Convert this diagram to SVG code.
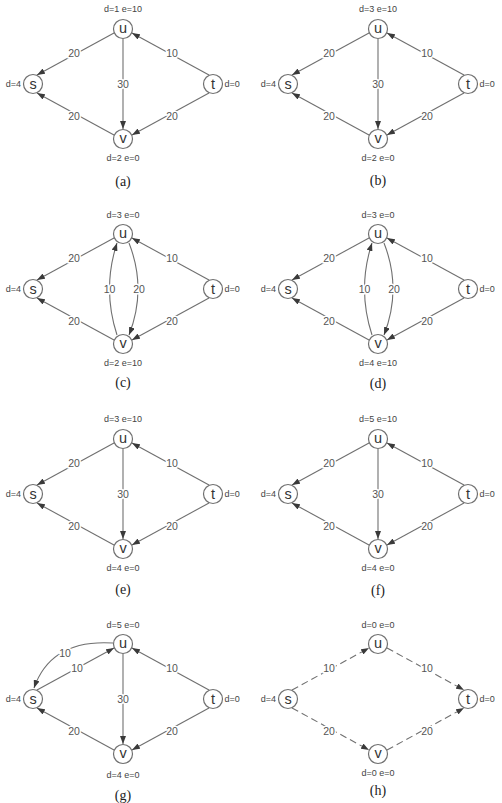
<svg xmlns="http://www.w3.org/2000/svg" width="502" height="803" viewBox="0 0 502 803">
<style>
.e{fill:none;stroke:#707070;stroke-width:1.1;marker-end:url(#ah)}
.dash{stroke-dasharray:7,4}
.n{fill:#fff;stroke:#707070;stroke-width:1.2}
.nl{font-family:"Liberation Sans",Arial,sans-serif;font-size:14.5px;fill:#333;text-anchor:middle}
.el{font-family:"Liberation Sans",Arial,sans-serif;font-size:10.5px;fill:#555;text-anchor:middle;stroke:#fff;stroke-width:3;paint-order:stroke}
.dl{font-family:"Liberation Sans",Arial,sans-serif;font-size:9px;fill:#444;text-anchor:middle}
.dle{font-family:"Liberation Sans",Arial,sans-serif;font-size:9px;fill:#444;text-anchor:end}
.dls{font-family:"Liberation Sans",Arial,sans-serif;font-size:9px;fill:#444;text-anchor:start}
.cap{font-family:"Liberation Serif","Times New Roman",serif;font-size:14px;fill:#222;text-anchor:middle}
</style>
<defs>
<marker id="ah" viewBox="0 0 8 6" refX="8" refY="3" markerWidth="8" markerHeight="6" markerUnits="userSpaceOnUse" orient="auto"><path d="M0,0 L8,3 L0,6 z" fill="#3a3a3a"/></marker>
</defs>

<!-- (a) -->
<g id="panel-a" transform="translate(123,84)">
<g id="a-connectors">
<path class="e" d="M-9,-51 L-86,-9"/>
<path class="e" d="M86,-9 L9,-51"/>
<path class="e" d="M0,-45.5 L0,45"/>
<path class="e" d="M-9,51 L-86,9"/>
<path class="e" d="M86,9 L9,51"/>
<text class="el" x="-49" y="-27.5">20</text>
<text class="el" x="49" y="-27.5">10</text>
<text class="el" x="0" y="3.8">30</text>
<text class="el" x="-49" y="35.5">20</text>
<text class="el" x="49" y="35.5">20</text>
</g>
<g id="a-u"><circle class="n" cx="0" cy="-55" r="9.5"/><text class="nl" x="0" y="-51">u</text><text class="dl" x="0" y="-72">d=1 e=10</text></g>
<g id="a-s"><circle class="n" cx="-90" cy="0" r="9.5"/><text class="nl" x="-90" y="4.5">s</text><text class="dle" x="-102" y="3.2">d=4</text></g>
<g id="a-t"><circle class="n" cx="90" cy="0" r="9.5"/><text class="nl" x="90" y="5">t</text><text class="dls" x="101.5" y="3.2">d=0</text></g>
<g id="a-v"><circle class="n" cx="0" cy="55" r="9.5"/><text class="nl" x="0" y="59">v</text><text class="dl" x="0" y="76.5">d=2 e=0</text></g>
<text class="cap" x="0" y="102">(a)</text>
</g>

<!-- (b) -->
<g id="panel-b" transform="translate(378,84)">
<g id="b-connectors">
<path class="e" d="M-9,-51 L-86,-9"/>
<path class="e" d="M86,-9 L9,-51"/>
<path class="e" d="M0,-45.5 L0,45"/>
<path class="e" d="M-9,51 L-86,9"/>
<path class="e" d="M86,9 L9,51"/>
<text class="el" x="-49" y="-27.5">20</text>
<text class="el" x="49" y="-27.5">10</text>
<text class="el" x="0" y="3.8">30</text>
<text class="el" x="-49" y="35.5">20</text>
<text class="el" x="49" y="35.5">20</text>
</g>
<g id="b-u"><circle class="n" cx="0" cy="-55" r="9.5"/><text class="nl" x="0" y="-51">u</text><text class="dl" x="0" y="-72">d=3 e=10</text></g>
<g id="b-s"><circle class="n" cx="-90" cy="0" r="9.5"/><text class="nl" x="-90" y="4.5">s</text><text class="dle" x="-102" y="3.2">d=4</text></g>
<g id="b-t"><circle class="n" cx="90" cy="0" r="9.5"/><text class="nl" x="90" y="5">t</text><text class="dls" x="101.5" y="3.2">d=0</text></g>
<g id="b-v"><circle class="n" cx="0" cy="55" r="9.5"/><text class="nl" x="0" y="59">v</text><text class="dl" x="0" y="76.5">d=2 e=0</text></g>
<text class="cap" x="0" y="101">(b)</text>
</g>

<!-- (c) -->
<g id="panel-c" transform="translate(123,289)">
<g id="c-connectors">
<path class="e" d="M-9,-51 L-86,-9"/>
<path class="e" d="M86,-9 L9,-51"/>
<path class="e" d="M-6,46 Q-21,0 -6,-46"/>
<path class="e" d="M6,-46 Q24,0 6,46"/>
<path class="e" d="M-9,51 L-86,9"/>
<path class="e" d="M86,9 L9,51"/>
<text class="el" x="-49" y="-27.5">20</text>
<text class="el" x="49" y="-27.5">10</text>
<text class="el" x="-13.5" y="3.8">10</text>
<text class="el" x="16" y="3.8">20</text>
<text class="el" x="-49" y="35.5">20</text>
<text class="el" x="49" y="35.5">20</text>
</g>
<g id="c-u"><circle class="n" cx="0" cy="-55" r="9.5"/><text class="nl" x="0" y="-51">u</text><text class="dl" x="0" y="-71">d=3 e=0</text></g>
<g id="c-s"><circle class="n" cx="-90" cy="0" r="9.5"/><text class="nl" x="-90" y="4.5">s</text><text class="dle" x="-102" y="3.2">d=4</text></g>
<g id="c-t"><circle class="n" cx="90" cy="0" r="9.5"/><text class="nl" x="90" y="5">t</text><text class="dls" x="101.5" y="3.2">d=0</text></g>
<g id="c-v"><circle class="n" cx="0" cy="55" r="9.5"/><text class="nl" x="0" y="59">v</text><text class="dl" x="0" y="77">d=2 e=10</text></g>
<text class="cap" x="0" y="98">(c)</text>
</g>

<!-- (d) -->
<g id="panel-d" transform="translate(378,289)">
<g id="d-connectors">
<path class="e" d="M-9,-51 L-86,-9"/>
<path class="e" d="M86,-9 L9,-51"/>
<path class="e" d="M-6,46 Q-21,0 -6,-46"/>
<path class="e" d="M6,-46 Q24,0 6,46"/>
<path class="e" d="M-9,51 L-86,9"/>
<path class="e" d="M86,9 L9,51"/>
<text class="el" x="-49" y="-27.5">20</text>
<text class="el" x="49" y="-27.5">10</text>
<text class="el" x="-13.5" y="3.8">10</text>
<text class="el" x="16" y="3.8">20</text>
<text class="el" x="-49" y="35.5">20</text>
<text class="el" x="49" y="35.5">20</text>
</g>
<g id="d-u"><circle class="n" cx="0" cy="-55" r="9.5"/><text class="nl" x="0" y="-51">u</text><text class="dl" x="0" y="-71">d=3 e=0</text></g>
<g id="d-s"><circle class="n" cx="-90" cy="0" r="9.5"/><text class="nl" x="-90" y="4.5">s</text><text class="dle" x="-102" y="3.2">d=4</text></g>
<g id="d-t"><circle class="n" cx="90" cy="0" r="9.5"/><text class="nl" x="90" y="5">t</text><text class="dls" x="101.5" y="3.2">d=0</text></g>
<g id="d-v"><circle class="n" cx="0" cy="55" r="9.5"/><text class="nl" x="0" y="59">v</text><text class="dl" x="0" y="77">d=4 e=10</text></g>
<text class="cap" x="0" y="99">(d)</text>
</g>

<!-- (e) -->
<g id="panel-e" transform="translate(123,494)">
<g id="e-connectors">
<path class="e" d="M-9,-51 L-86,-9"/>
<path class="e" d="M86,-9 L9,-51"/>
<path class="e" d="M0,-45.5 L0,45"/>
<path class="e" d="M-9,51 L-86,9"/>
<path class="e" d="M86,9 L9,51"/>
<text class="el" x="-49" y="-27.5">20</text>
<text class="el" x="49" y="-27.5">10</text>
<text class="el" x="0" y="3.8">30</text>
<text class="el" x="-49" y="35.5">20</text>
<text class="el" x="49" y="35.5">20</text>
</g>
<g id="e-u"><circle class="n" cx="0" cy="-55" r="9.5"/><text class="nl" x="0" y="-51">u</text><text class="dl" x="0" y="-72">d=3 e=10</text></g>
<g id="e-s"><circle class="n" cx="-90" cy="0" r="9.5"/><text class="nl" x="-90" y="4.5">s</text><text class="dle" x="-102" y="3.2">d=4</text></g>
<g id="e-t"><circle class="n" cx="90" cy="0" r="9.5"/><text class="nl" x="90" y="5">t</text><text class="dls" x="101.5" y="3.2">d=0</text></g>
<g id="e-v"><circle class="n" cx="0" cy="55" r="9.5"/><text class="nl" x="0" y="59">v</text><text class="dl" x="0" y="77">d=4 e=0</text></g>
<text class="cap" x="0" y="100">(e)</text>
</g>

<!-- (f) -->
<g id="panel-f" transform="translate(378,494)">
<g id="f-connectors">
<path class="e" d="M-9,-51 L-86,-9"/>
<path class="e" d="M86,-9 L9,-51"/>
<path class="e" d="M0,-45.5 L0,45"/>
<path class="e" d="M-9,51 L-86,9"/>
<path class="e" d="M86,9 L9,51"/>
<text class="el" x="-49" y="-27.5">20</text>
<text class="el" x="49" y="-27.5">10</text>
<text class="el" x="0" y="3.8">30</text>
<text class="el" x="-49" y="35.5">20</text>
<text class="el" x="49" y="35.5">20</text>
</g>
<g id="f-u"><circle class="n" cx="0" cy="-55" r="9.5"/><text class="nl" x="0" y="-51">u</text><text class="dl" x="0" y="-72">d=5 e=10</text></g>
<g id="f-s"><circle class="n" cx="-90" cy="0" r="9.5"/><text class="nl" x="-90" y="4.5">s</text><text class="dle" x="-102" y="3.2">d=4</text></g>
<g id="f-t"><circle class="n" cx="90" cy="0" r="9.5"/><text class="nl" x="90" y="5">t</text><text class="dls" x="101.5" y="3.2">d=0</text></g>
<g id="f-v"><circle class="n" cx="0" cy="55" r="9.5"/><text class="nl" x="0" y="59">v</text><text class="dl" x="0" y="77">d=4 e=0</text></g>
<text class="cap" x="0" y="101">(f)</text>
</g>

<!-- (g) -->
<g id="panel-g" transform="translate(123,699)">
<g id="g-connectors">
<path class="e" d="M-10,-56 Q-72,-60 -89,-11"/>
<path class="e" d="M-86,-9 L-9,-51"/>
<path class="e" d="M86,-9 L9,-51"/>
<path class="e" d="M0,-45.5 L0,45"/>
<path class="e" d="M-9,51 L-86,9"/>
<path class="e" d="M86,9 L9,51"/>
<text class="el" x="-58" y="-42.5">10</text>
<text class="el" x="-46" y="-27.5">10</text>
<text class="el" x="49" y="-27.5">10</text>
<text class="el" x="0" y="3.8">30</text>
<text class="el" x="-49" y="35.5">20</text>
<text class="el" x="49" y="35.5">20</text>
</g>
<g id="g-u"><circle class="n" cx="0" cy="-55" r="9.5"/><text class="nl" x="0" y="-51">u</text><text class="dl" x="0" y="-71">d=5 e=0</text></g>
<g id="g-s"><circle class="n" cx="-90" cy="0" r="9.5"/><text class="nl" x="-90" y="4.5">s</text><text class="dle" x="-102" y="3.2">d=4</text></g>
<g id="g-t"><circle class="n" cx="90" cy="0" r="9.5"/><text class="nl" x="90" y="5">t</text><text class="dls" x="101.5" y="3.2">d=0</text></g>
<g id="g-v"><circle class="n" cx="0" cy="55" r="9.5"/><text class="nl" x="0" y="59">v</text><text class="dl" x="0" y="79">d=4 e=0</text></g>
<text class="cap" x="0" y="101">(g)</text>
</g>

<!-- (h) -->
<g id="panel-h" transform="translate(378,699)">
<g id="h-connectors">
<path class="e dash" d="M-86,-9 L-9,-51"/>
<path class="e dash" d="M9,-51 L86,-9"/>
<path class="e dash" d="M-86,9 L-9,51"/>
<path class="e dash" d="M9,51 L86,9"/>
<text class="el" x="-49" y="-27.5">10</text>
<text class="el" x="49" y="-27.5">10</text>
<text class="el" x="-49" y="35.5">20</text>
<text class="el" x="49" y="35.5">20</text>
</g>
<g id="h-u"><circle class="n" cx="0" cy="-55" r="9.5"/><text class="nl" x="0" y="-51">u</text><text class="dl" x="0" y="-71">d=0 e=0</text></g>
<g id="h-s"><circle class="n" cx="-90" cy="0" r="9.5"/><text class="nl" x="-90" y="4.5">s</text><text class="dle" x="-102" y="3.2">d=4</text></g>
<g id="h-t"><circle class="n" cx="90" cy="0" r="9.5"/><text class="nl" x="90" y="5">t</text><text class="dls" x="101.5" y="3.2">d=0</text></g>
<g id="h-v"><circle class="n" cx="0" cy="55" r="9.5"/><text class="nl" x="0" y="59">v</text><text class="dl" x="0" y="77">d=0 e=0</text></g>
<text class="cap" x="0" y="96">(h)</text>
</g>
</svg>
